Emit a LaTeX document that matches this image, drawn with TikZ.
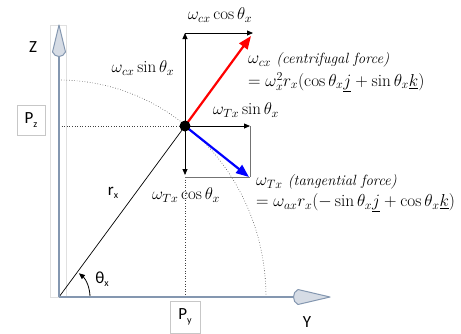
\RequirePackage{fix-cm}
\documentclass[tikz,border=0pt]{standalone}
\usepackage{fontspec}
\newfontfamily\sanslab{Carlito}
\usetikzlibrary{arrows.meta}
\definecolor{axisc}{HTML}{8497B0}
\definecolor{headc}{HTML}{D6DCE5}
\newcommand\lowsub[1]{\raisebox{-3.5pt}{\fontsize{10}{12}\selectfont #1}}
\newcommand\itlab[1]{{\fontsize{14.8}{20}\selectfont\itshape #1}}
\begin{document}
\begin{tikzpicture}[x=1pt,y=-1pt,
  axisline/.style={draw=axisc, line width=2pt},
  axishead/.style={draw=axisc, fill=headc, line width=1pt, line join=round},
  comp/.style={draw=black, line width=0.8pt, -{Triangle[length=6pt,width=5pt]}},
  compgray/.style={draw=black!55, line width=0.8pt},
  guide/.style={draw=black!75, dotted, line width=0.6pt},
  vecarrow/.style={line width=2.2pt, -{Triangle[length=13pt,width=10pt]}},
  mlab/.style={inner sep=0pt, font=\fontsize{17}{20}\selectfont},
  flab/.style={inner sep=0pt, anchor=west, font=\fontsize{17.3}{20}\selectfont},
  slab/.style={inner sep=0pt, font=\sanslab\fontsize{17}{20}\selectfont},
  pbox/.style={draw=black!22, fill=white, inner sep=0pt, font=\sanslab\fontsize{17}{20}\selectfont}]
\useasboundingbox (0,0) rectangle (461,333);
% coordinates
\coordinate (O) at (59,297);
\coordinate (P) at (185,126);
\coordinate (Zend) at (59,55);
\coordinate (Yend) at (295,297);
\coordinate (Ctop) at (185,33);
\coordinate (Ctr) at (253,33);
\coordinate (Rtip) at (251,36);
\coordinate (Tr) at (250,126);
\coordinate (Bl) at (185,177);
\coordinate (Br) at (250,177);
\coordinate (Btip) at (249,177);
\coordinate (Dtip) at (185,175);
\coordinate (PzA) at (59,126);
\coordinate (PyA) at (185,297);
\coordinate (ArcY) at (266,297);
\coordinate (AngS) at (90,297);
% faint frame around Z axis
\draw[black!12, line width=0.5pt] (50,25) rectangle (66,297);
% guides
\draw[guide] (PzA) -- (P);
\draw[guide] (Bl) -- (PyA);
\draw[guide] (ArcY) arc[start angle=0, end angle=-90, x radius=207, y radius=217];
% radius line
\draw[black, line width=0.7pt] (O) -- (P);
% angle arc
\draw[black, line width=0.8pt, -{Triangle[length=6pt,width=5pt]}] (AngS) arc[start angle=0, end angle=-50, radius=31];
% axes
\draw[axisline] (O) -- (Zend);
\draw[axisline] (O) -- (Yend);
\filldraw[axishead] (59,25) -- (65.5,52) .. controls (63,58) and (55,58) .. (52.5,52) -- cycle;
\filldraw[axishead] (330,297) -- (298,304.5) .. controls (292,302) and (292,292) .. (298,289.5) -- cycle;
% component rectangles
\draw[compgray] (Tr) -- (Br);
\draw[compgray] (Bl) -- (Br);
\draw[comp] (P) -- (Ctop);
\draw[comp] (Ctop) -- (Ctr);
\draw[comp] (P) -- (Tr);
\draw[comp] (P) -- (Dtip);
% main vectors
\draw[vecarrow, red] (P) -- (Rtip);
\draw[vecarrow, blue] (P) -- (Btip);
\fill[black] (P) circle[radius=5.5];
% labels
\node[mlab] (l1) at (220,15) {$\omega_{cx}\cos\theta_x$};
\node[mlab] (l2) at (143,68) {$\omega_{cx}\sin\theta_x$};
\node[flab] (l3) at (248,60) {$\omega_{cx}$\ \itlab{(centrifugal force)}};
\node[flab] (l4) at (248,82) {$=\omega_x^2 r_x(\cos\theta_x\underline{j}+\sin\theta_x\underline{k})$};
\node[mlab] (l5) at (246,110) {$\omega_{Tx}\sin\theta_x$};
\node[mlab] (l6) at (186,195) {$\omega_{Tx}\cos\theta_x$};
\node[flab] (l7) at (256,182) {$\omega_{Tx}$\ \itlab{(tangential force)}};
\node[flab] (l8) at (256,203) {$=\omega_{ax}r_x(-\sin\theta_x\underline{j}+\cos\theta_x\underline{k})$};
\node[slab] (zl) at (33,47) {Z};
\node[slab] (yl) at (307,322) {Y};
\node[slab] (rl) at (113,193) {r\lowsub{x}};
\node[slab] (tl) at (102,279) {θ\lowsub{x}};
\node[pbox, minimum width=28pt, minimum height=30pt] (pz) at (31,120) {P\lowsub{z}};
\node[pbox, minimum width=30pt, minimum height=32pt] (py) at (185,317) {P\lowsub{y}};
\end{tikzpicture}
\end{document}
